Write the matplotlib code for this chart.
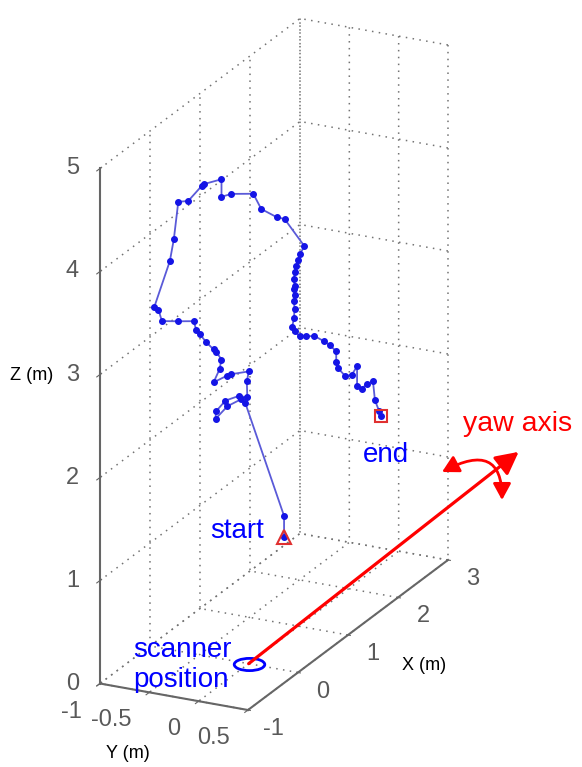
import matplotlib
matplotlib.use('Agg')
import matplotlib.pyplot as plt
import matplotlib.ticker as ticker
from matplotlib.path import Path
from matplotlib.transforms import Affine2D
from mpl_toolkits.mplot3d import proj3d

# trajectory of the tracked point, start -> end (metres)
px = [1.32, 1.32, 0.94, 0.90, 0.76, 0.64, 0.65, 0.74, 0.87, 0.96, 0.95, 0.97,
      0.80, 0.75, 0.62, 0.68, 0.70, 0.65, 0.62, 0.55, 0.48, 0.45, 0.42, 0.27,
      0.10, 0.07, 0.03, 0.18, 0.22, 0.27, 0.37, 0.50, 0.53, 0.70, 0.70, 0.80,
      1.02, 1.10, 1.25, 1.33, 1.53, 1.48, 1.47, 1.45, 1.43, 1.42, 1.43, 1.42,
      1.43, 1.42, 1.43, 1.42, 1.40, 1.43, 1.48, 1.55, 1.63, 1.73, 1.78, 1.85,
      1.85, 1.87, 1.93, 2.00, 2.05, 2.05, 2.10, 2.15, 2.21, 2.23, 2.27, 2.30]
py = [-0.31, -0.31, -0.51, -0.53, -0.60, -0.66, -0.66, -0.61, -0.54, -0.50, -0.50, -0.49,
      -0.58, -0.60, -0.67, -0.64, -0.63, -0.66, -0.67, -0.71, -0.74, -0.76, -0.77, -0.85,
      -0.93, -0.95, -0.97, -0.89, -0.87, -0.85, -0.80, -0.73, -0.72, -0.63, -0.63, -0.58,
      -0.47, -0.43, -0.35, -0.31, -0.21, -0.23, -0.24, -0.25, -0.26, -0.26, -0.26, -0.26,
      -0.26, -0.26, -0.26, -0.26, -0.27, -0.26, -0.23, -0.20, -0.16, -0.11, -0.08, -0.05,
      -0.05, -0.04, 0.00, 0.03, 0.06, 0.06, 0.08, 0.11, 0.14, 0.15, 0.17, 0.18]
pz = [0.70, 0.90, 2.10, 2.15, 2.12, 2.03, 2.10, 2.18, 2.19, 2.15, 2.31, 2.40,
      2.42, 2.42, 2.39, 2.50, 2.59, 2.68, 2.71, 2.80, 2.90, 2.95, 3.04, 3.08,
      3.13, 3.25, 3.29, 3.69, 3.89, 4.24, 4.22, 4.33, 4.34, 4.34, 4.17, 4.17,
      4.11, 3.94, 3.82, 3.78, 3.46, 3.40, 3.34, 3.29, 3.24, 3.17, 3.10, 3.08,
      3.01, 2.96, 2.88, 2.79, 2.71, 2.66, 2.60, 2.58, 2.56, 2.48, 2.43, 2.35,
      2.25, 2.18, 2.09, 2.08, 2.15, 1.96, 1.92, 1.95, 1.96, 1.77, 1.66, 1.60]

scanner = (0.0, 0.0, 0.0)
yaw_end = (5.4, 0.0, 0.09)

xticks = [-1, 0, 1, 2, 3]
yticks = [-1, -0.5, 0, 0.5]
zticks = [0, 1, 2, 3, 4, 5]

plt.rcParams['font.family'] = ['Liberation Sans', 'DejaVu Sans']
plt.rcParams['axes.unicode_minus'] = False

fig = plt.figure(figsize=(5.82, 7.67), dpi=100, facecolor='w')
ax = fig.add_axes([-0.0333, 0.1426, 0.9816, 0.7449], projection='3d')
ax.set_proj_type('ortho')
ax.set_box_aspect((455.6, 164.7, 553.5), zoom=1.25)
ax.view_init(elev=21.5, azim=-153.96)

ax.set_xlim(-1, 3)
ax.set_ylim(0.5, -1)
ax.set_zlim(0, 5)
ax.set_xticks(xticks)
ax.set_yticks(yticks)
ax.set_zticks(zticks)
for a in (ax.xaxis, ax.yaxis, ax.zaxis):
    a.set_major_formatter(ticker.NullFormatter())
    a.set_pane_color((1, 1, 1, 0))
    a._axinfo['grid'].update(color='0.45', linewidth=1.1, linestyle=(0, (1, 3.5)))
    a._axinfo['axisline'].update(color='0.4', linewidth=1.5)
    a.line.set_color('0.4')
    a.line.set_linewidth(1.5)
ax.tick_params(axis='both', colors='0.4')
ax.tick_params(axis='z', colors='0.4')

# trajectory
ax.plot(px, py, pz, '-', color='#5a5ad8', lw=1.3)
ax.plot(px, py, pz, '.', color='#1414e6', ms=8)
ax.plot([px[0]], [py[0]], [pz[0]], marker='^', ms=10, mfc='none', mec='#e03030', mew=1.5)
ax.plot([px[-1]], [py[-1]], [pz[-1]], marker='s', ms=9, mfc='none', mec='#e03030', mew=1.5)

# scanner position
ell = Path.unit_circle().transformed(Affine2D().scale(2.5, 1.0))
ax.plot([scanner[0]], [scanner[1]], [scanner[2]], marker=ell, ms=22,
        mfc='none', mec='#0000ff', mew=2, clip_on=False)

M = ax.get_proj()

# tick labels, MATLAB-like placement
lab = dict(fontsize=17, color='0.35', textcoords='offset pixels', annotation_clip=False)
for v in xticks:
    tx, ty, _ = proj3d.proj_transform(v, 0.5, 0, M)
    ax.annotate('%g' % v, (tx, ty), xytext=(25, -19), ha='center', va='center', **lab)
for v in yticks:
    tx, ty, _ = proj3d.proj_transform(-1, v, 0, M)
    ax.annotate('%g' % v, (tx, ty), xytext=(-18, -28), ha='right', va='center', **lab)
for v in zticks:
    tx, ty, _ = proj3d.proj_transform(-1, -1, v, M)
    ax.annotate('%g' % v, (tx, ty), xytext=(-21, 0), ha='right', va='center', **lab)

# yaw axis arrow
x0, y0, _ = proj3d.proj_transform(*scanner, M)
x1, y1, _ = proj3d.proj_transform(*yaw_end, M)
ax.annotate('', xy=(x1, y1), xytext=(x0, y0), xycoords='data', textcoords='data',
            arrowprops=dict(arrowstyle='-|>,head_length=0.62,head_width=0.32',
                            color='#ff0000', lw=2.3, mutation_scale=22,
                            shrinkA=0, shrinkB=0),
            annotation_clip=False)
# rotation about the yaw axis
ax.annotate('', xy=(502, 267), xytext=(442, 295), xycoords='figure pixels',
            textcoords='figure pixels',
            arrowprops=dict(arrowstyle='<|-|>,head_length=0.55,head_width=0.3',
                            color='#ff0000', lw=2, mutation_scale=18,
                            shrinkA=0, shrinkB=0,
                            connectionstyle='angle3,angleA=28,angleB=90'),
            annotation_clip=False)

W, H = 582.0, 767.0
def put(x, y, s, **kw):
    fig.text(x / W, 1 - y / H, s, **kw)

put(210, 538, 'start', color='#0000ff', fontsize=20, va='baseline')
put(363, 462, 'end', color='#0000ff', fontsize=20, va='baseline')
put(133, 657, 'scanner', color='#0000ff', fontsize=20, va='baseline')
put(133, 687, 'position', color='#0000ff', fontsize=20, va='baseline')
put(463, 431, 'yaw axis', color='#ff0000', fontsize=20.5, va='baseline')

put(32, 376, 'Z (m)', fontsize=13, ha='center', va='center')
put(424, 665, 'X (m)', fontsize=13, ha='center', va='center')
put(128, 753, 'Y (m)', fontsize=13, ha='center', va='center')

fig.savefig('out.png', dpi=100)
